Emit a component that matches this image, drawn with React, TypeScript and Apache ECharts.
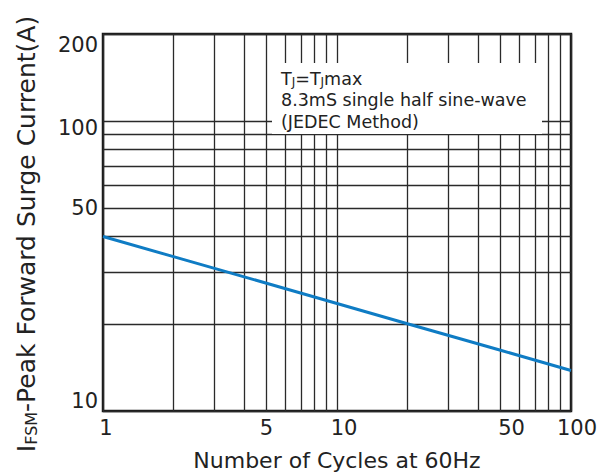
import React, { useEffect, useRef } from "react";
import * as echarts from "echarts";

// Data (log-log straight line)
const cycles = [1, 2, 5, 10, 20, 50, 100];
const surgeCurrent = [40, 34.1, 27.6, 23.5, 20, 16.2, 13.8];

// Axis tick labels and grid positions
const xLabelValues = [1, 5, 10, 50, 100];
const yLabelValues = [10, 50, 100, 200];
const xGridValues = [1, 2, 3, 4, 5, 6, 7, 8, 9, 10, 20, 30, 40, 50, 60, 70, 80, 90, 100];
const yGridValues = [10, 20, 30, 40, 50, 60, 70, 80, 90, 100, 200];

const xTitle = "Number of Cycles at 60Hz";
const yTitleParts = ["I", "FSM", "-Peak Forward Surge Current(A)"];

const FONT = "DejaVu Sans";
const INK = "#222";

export default function App() {
  const ref = useRef<HTMLDivElement>(null);

  useEffect(() => {
    if (!ref.current) return;
    const chart = echarts.init(ref.current, null, { renderer: "svg" });

    const option: any = {
      animation: false,
      backgroundColor: "#fff",
      grid: {
        left: 103,
        right: 43,
        top: 34,
        bottom: 61,
        show: true,
        borderColor: "#1a1a1a",
        borderWidth: 2.5,
        backgroundColor: "transparent",
      },
      xAxis: {
        type: "log",
        logBase: 10,
        min: 1,
        max: 100,
        name: xTitle,
        nameLocation: "middle",
        nameGap: 38,
        nameTextStyle: { fontFamily: FONT, fontSize: 22, color: INK },
        axisLine: { show: false },
        axisTick: { show: false, customValues: xGridValues },
        splitLine: { show: true, lineStyle: { color: "#2a2a2a", width: 1.3 } },
        axisLabel: {
          customValues: xLabelValues,
          fontFamily: FONT,
          fontSize: 21,
          color: INK,
          margin: 6,
          formatter: (v: number) => {
            const r = Math.round(v);
            if (r === 1) return "{p1|1}";
            if (r === 10) return "{p10|10}";
            if (r === 50) return "{p50|50}";
            if (r === 100) return "{p100|100}";
            return String(r);
          },
          rich: {
            p1: { fontFamily: FONT, fontSize: 21, color: INK, padding: [0, 0, 0, 6] },
            p10: { fontFamily: FONT, fontSize: 21, color: INK, padding: [0, 0, 0, 14] },
            p50: { fontFamily: FONT, fontSize: 21, color: INK, padding: [0, 0, 0, 22] },
            p100: { fontFamily: FONT, fontSize: 21, color: INK, padding: [0, 0, 0, 12] },
          },
        },
      },
      yAxis: {
        type: "log",
        logBase: 10,
        min: 10,
        max: 200,
        name:
          "{b|" + yTitleParts[0] + "}{s|" + yTitleParts[1] + "}{b|" + yTitleParts[2] + "}",
        nameLocation: "middle",
        nameRotate: 90,
        nameGap: 64,
        nameTextStyle: {
          fontFamily: FONT,
          fontSize: 25,
          color: INK,
          padding: [0, 23, 0, 0],
          rich: {
            b: { fontFamily: FONT, fontSize: 25, color: INK, verticalAlign: "bottom", lineHeight: 28 },
            s: { fontFamily: FONT, fontSize: 16, color: INK, verticalAlign: "bottom", lineHeight: 28 },
          },
        },
        axisLine: { show: false },
        axisTick: { show: false, customValues: yGridValues },
        splitLine: { show: true, lineStyle: { color: "#2a2a2a", width: 1.3 } },
        axisLabel: {
          customValues: yLabelValues,
          fontFamily: FONT,
          fontSize: 21,
          color: INK,
          margin: 5,
          verticalAlignMaxLabel: "top",
          verticalAlignMinLabel: "bottom",
          formatter: (v: number) => {
            const r = Math.round(v);
            if (r === 100) return "{d|100}";
            return String(r);
          },
          rich: {
            d: { fontFamily: FONT, fontSize: 21, color: INK, padding: [13, 0, 0, 0] },
          },
        },
      },
      graphic: {
        elements: [
          {
            type: "rect",
            z: 100,
            shape: { x: 272, y: 63, width: 270, height: 71 },
            style: { fill: "#fff" },
          },
          {
            type: "text",
            z: 101,
            x: 281,
            y: 66,
            style: {
              text:
                "{n|T}{s|J}{n|=T}{s|J}{n|max}\n{n|8.3mS single half sine-wave}\n{n|(JEDEC Method)}",
              fontFamily: FONT,
              fontSize: 17.5,
              fill: INK,
              rich: {
                n: { fontFamily: FONT, fontSize: 17.5, fill: INK, lineHeight: 21.5, verticalAlign: "bottom" },
                s: { fontFamily: FONT, fontSize: 12, fill: INK, lineHeight: 19.5, verticalAlign: "bottom" },
              },
            },
          },
        ],
      },
      series: [
        {
          type: "line",
          data: cycles.map((c, i) => [c, surgeCurrent[i]]),
          showSymbol: false,
          symbol: "none",
          lineStyle: { color: "#0f7cc4", width: 3 },
          z: 5,
        },
      ],
    };

    chart.setOption(option);
    return () => chart.dispose();
  }, []);

  return (
    <div
      ref={ref}
      style={{ position: "fixed", left: 0, top: 0, width: 614, height: 476 }}
    />
  );
}
